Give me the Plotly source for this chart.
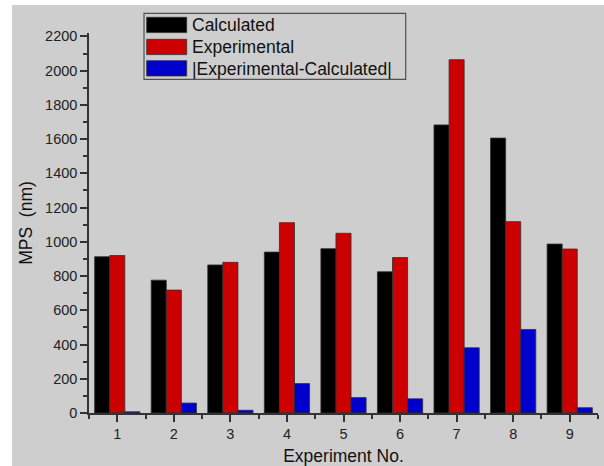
import plotly.graph_objects as go

experiments = [1, 2, 3, 4, 5, 6, 7, 8, 9]
calculated = [913, 776, 865, 940, 960, 825, 1683, 1606, 987]
experimental = [920, 718, 880, 1112, 1050, 908, 2064, 1118, 958]
abs_diff = [7, 58, 16, 172, 90, 83, 381, 488, 31]

series_names = ["Calculated", "Experimental", "|Experimental-Calculated|"]
series_colors = ["#000000", "#cc0000", "#0000cc"]
series_values = [calculated, experimental, abs_diff]

FONT = "Liberation Sans, Arial, sans-serif"
W, H = 604, 466
L, R, T, B = 89, 6, 33, 53
PW = W - L - R
PH = H - T - B

def px_x(p):
    return (p - L) / PW

def px_y(p):
    return (H - B - p) / PH

fig = go.Figure()
for name, col, vals in zip(series_names, series_colors, series_values):
    fig.add_trace(go.Bar(
        x=experiments, y=vals, name=name,
        marker=dict(color=col, line=dict(color="#303030", width=0.8)),
        showlegend=False,
    ))

shapes = [
    dict(type="rect", xref="paper", yref="paper", layer="below",
         x0=px_x(12), x1=px_x(W + 2), y0=px_y(H + 2), y1=px_y(5),
         fillcolor="#cecece", line=dict(width=0)),
    dict(type="rect", xref="paper", yref="paper",
         x0=px_x(144), x1=px_x(405.7), y0=px_y(79.3), y1=px_y(13.3),
         fillcolor="rgba(0,0,0,0)", line=dict(color="#505050", width=1.2)),
]
annotations = []
sw_top = [17.3, 39.3, 60.7]
for name, col, top in zip(series_names, series_colors, sw_top):
    shapes.append(dict(type="rect", xref="paper", yref="paper",
                       x0=px_x(146.7), x1=px_x(186.7), y0=px_y(top + 15.3), y1=px_y(top),
                       fillcolor=col, line=dict(color="#303030", width=0.8)))
    annotations.append(dict(xref="paper", yref="paper", x=px_x(190), y=px_y(top + 7.8),
                            text=name, showarrow=False, xanchor="left", yanchor="middle",
                            font=dict(family=FONT, size=17.5, color="#111111")))

fig.update_layout(
    width=W, height=H,
    margin=dict(l=L, r=R, t=T, b=B, pad=0, autoexpand=False),
    paper_bgcolor="white",
    plot_bgcolor="rgba(0,0,0,0)",
    barmode="group", bargap=0.2, bargroupgap=0,
    font=dict(family=FONT, color="#222222"),
    shapes=shapes, annotations=annotations,
    showlegend=False,
)
fig.update_xaxes(
    range=[0.5, 9.5], tickvals=experiments, ticktext=[str(e) for e in experiments],
    showgrid=False, zeroline=False, showline=True, linecolor="#333333", linewidth=1.5,
    ticks="outside", ticklen=7, tickwidth=1.5, tickcolor="#333333",
    tickfont=dict(family=FONT, size=14.5, color="#222222"),
    automargin=False,
    minor=dict(tick0=0.5, dtick=1, ticks="outside", ticklen=4, tickwidth=1.5, tickcolor="#333333", showgrid=False),
    title=dict(text="Experiment No.", font=dict(family=FONT, size=17.5, color="#111111"), standoff=20),
)
fig.update_yaxes(
    range=[0, 2220], tickvals=list(range(0, 2201, 200)),
    showgrid=False, zeroline=False, showline=True, linecolor="#333333", linewidth=1.5,
    ticks="outside", ticklen=7, tickwidth=1.5, tickcolor="#333333",
    tickfont=dict(family=FONT, size=14.5, color="#222222"),
    automargin=False,
    minor=dict(dtick=100, ticks="outside", ticklen=4, tickwidth=1.5, tickcolor="#333333", showgrid=False),
    title=dict(text="MPS  (nm)", font=dict(family=FONT, size=17.5, color="#111111"), standoff=8),
)

fig.write_html("out.html")
